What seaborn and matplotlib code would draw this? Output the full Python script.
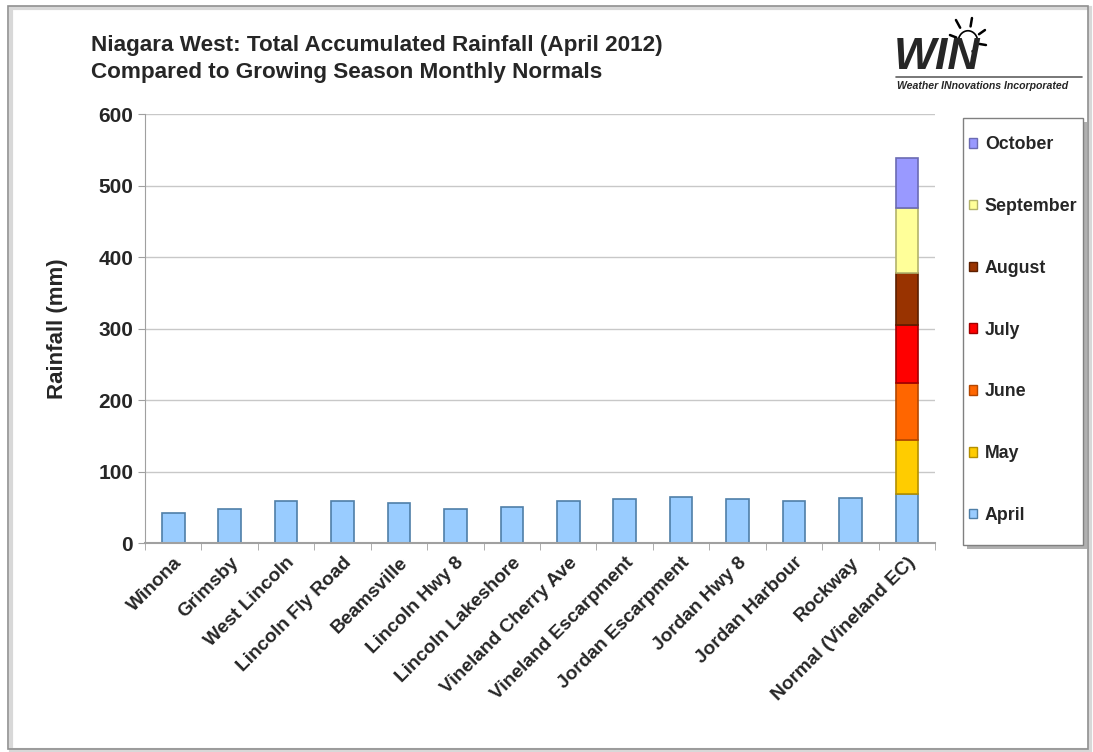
import pandas as pd
import matplotlib.pyplot as plt
import matplotlib.patches as mpatches
import seaborn as sns

# station totals for April 2012 (mm)
stations = ["Winona", "Grimsby", "West Lincoln", "Lincoln Fly Road", "Beamsville",
            "Lincoln Hwy 8", "Lincoln Lakeshore", "Vineland Cherry Ave",
            "Vineland Escarpment", "Jordan Escarpment", "Jordan Hwy 8",
            "Jordan Harbour", "Rockway", "Normal (Vineland EC)"]
april_rain = [42, 47, 59, 59, 56, 48, 50, 59, 61, 64, 61, 59, 63, 68]

# monthly normals stacked on the last bar (mm)
months = ["April", "May", "June", "July", "August", "September", "October"]
normals = [68, 76, 80, 81, 73, 90, 70]
month_colors = ["#99CCFF", "#FFCC00", "#FF6600", "#FF0000", "#993300", "#FFFF99", "#9999FF"]
edge_colors = ["#4F7FA8", "#B38F00", "#B34700", "#A00000", "#5C1F00", "#B3B36B", "#6B6BB3"]

df = pd.DataFrame({"Station": stations, "Rainfall": april_rain})

fig = plt.figure(figsize=(10.93, 7.52), dpi=100)
sns.set_style("white")
plt.rcParams['font.family'] = ['Liberation Sans', 'DejaVu Sans']

ax = fig.add_axes([0.1327, 0.2779, 0.7228, 0.5705])

sns.barplot(data=df, x="Station", y="Rainfall", color=month_colors[0],
            width=0.40, saturation=1, edgecolor=edge_colors[0], linewidth=1.2, ax=ax)

# stack the remaining normals on the Normal bar
last = len(stations) - 1
bottom = normals[0]
for m, val, c, ec in zip(months[1:], normals[1:], month_colors[1:], edge_colors[1:]):
    ax.bar(last, val, bottom=bottom, width=0.40, color=c, edgecolor=ec, linewidth=1.2, zorder=3)
    bottom += val

ax.set_ylim(0, 600)
ax.set_xlim(-0.5, len(stations) - 0.5)
ax.set_yticks(range(0, 601, 100))
ax.yaxis.grid(True, color="#C8C8C8", linewidth=1)
ax.set_axisbelow(True)
for s in ["top", "right"]:
    ax.spines[s].set_visible(False)
ax.spines["left"].set_color("#A0A0A0")
ax.spines["bottom"].set_color("#A0A0A0")
ax.spines["bottom"].set_linewidth(1.5)

ax.set_xlabel("")
ax.set_ylabel("Rainfall (mm)", fontsize=16, fontweight="bold", labelpad=22)
ax.tick_params(axis="y", labelsize=15, length=5, color="#A0A0A0", left=True)
for lab in ax.get_yticklabels():
    lab.set_fontweight("bold")
ax.set_xticks(range(len(stations)))
ax.set_xticklabels(stations, rotation=45, ha="right", rotation_mode="anchor",
                   fontsize=13.8, fontweight="bold")
ax.tick_params(axis="x", length=0, pad=8)
ax.set_xticks([i + 0.5 for i in range(-1, len(stations))], minor=True)
ax.tick_params(axis="x", which="minor", length=5, color="#A0A0A0", bottom=True)

# legend box drawn by hand, entries with October on top
fig.add_artist(mpatches.Rectangle((0.8848, 0.2700), 0.1098, 0.5678, transform=fig.transFigure,
                                  facecolor="#B0B0B0", edgecolor="none", zorder=1))
fig.add_artist(mpatches.Rectangle((0.8811, 0.2753), 0.1098, 0.5678, transform=fig.transFigure,
                                  facecolor="white", edgecolor="#808080", linewidth=1, zorder=2))
handles = [mpatches.Patch(facecolor=c, edgecolor=ec, label=m)
           for m, c, ec in zip(months, month_colors, edge_colors)][::-1]
leg = fig.legend(handles=handles, loc="upper left", bbox_to_anchor=(0.8865, 0.819),
                 frameon=False, handlelength=0.45, handleheight=0.45, handletextpad=0.45,
                 labelspacing=2.52, borderpad=0, borderaxespad=0,
                 prop={"weight": "bold", "size": 12.8})
leg.set_zorder(3)

# titles
fig.text(0.083, 0.94, "Niagara West: Total Accumulated Rainfall (April 2012)",
         fontsize=16.2, fontweight="bold", va="center")
fig.text(0.083, 0.904, "Compared to Growing Season Monthly Normals",
         fontsize=16.2, fontweight="bold", va="center")

# logo
fig.text(0.818, 0.923, "WIN", fontsize=32, fontweight="heavy", style="italic", va="center")
fig.text(0.821, 0.886, "Weather INnovations Incorporated", fontsize=7.6,
         fontweight="bold", style="italic", va="center")
fig.add_artist(plt.Line2D([0.82, 0.99], [0.898, 0.898], color="#606060", linewidth=1.2))
sun_x, sun_y = 0.8856, 0.9441
arc = mpatches.Arc((sun_x, sun_y), 0.018, 0.030, theta1=0, theta2=180,
                   transform=fig.transFigure, color="black", linewidth=1.2)
fig.add_artist(arc)
for px, py in [(-12, 22), (4, 24), (17, 12), (18, -3), (-18, 7), (7, -14)]:
    dx, dy = px / 1093, py / 752
    fig.add_artist(plt.Line2D([sun_x + dx * 0.65, sun_x + dx], [sun_y + dy * 0.65, sun_y + dy],
                              color="black", linewidth=1.8))

# outer frame with shadow
fig.add_artist(mpatches.Rectangle((0.010, 0.002), 0.987, 0.988, transform=fig.transFigure,
                                  facecolor="none", edgecolor="#D8D8D8", linewidth=3))
fig.add_artist(mpatches.Rectangle((0.007, 0.004), 0.988, 0.988, transform=fig.transFigure,
                                  facecolor="none", edgecolor="#909090", linewidth=1.2))

plt.savefig("out.png", dpi=100)
